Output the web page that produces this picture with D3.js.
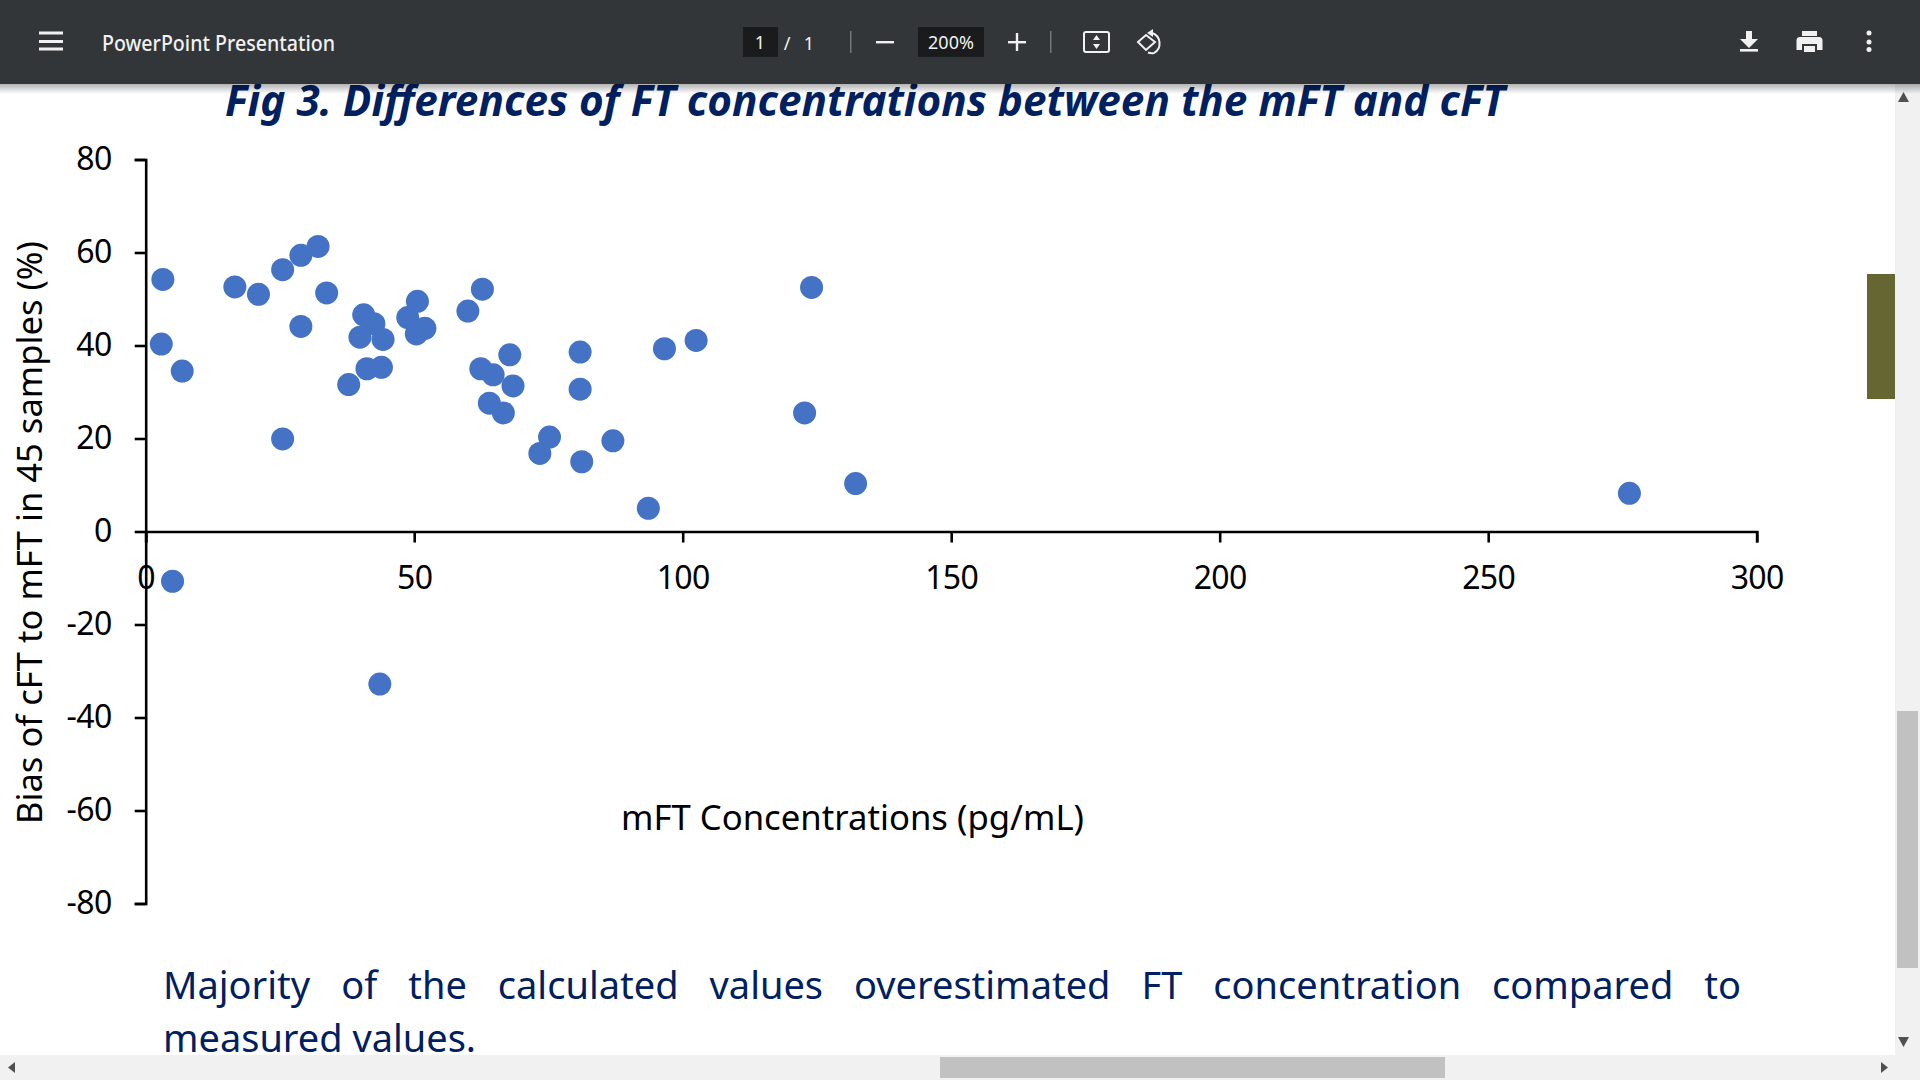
<!DOCTYPE html>
<html>
<head>
<meta charset="utf-8">
<title>Fig 3</title>
<script src="https://cdn.jsdelivr.net/npm/d3@7/dist/d3.min.js"></script>
<style>
  html, body { margin: 0; padding: 0; background: #fff; overflow: hidden; }
  svg { display: block; font-family: "Noto Sans", sans-serif; }
</style>
</head>
<body>
<svg id="page" width="1920" height="1080"></svg>
<script>
// values
var mft = [3.2, 2.9, 6.8, 5, 16.6, 21, 25.5, 28.9, 32.1, 33.7, 28.9, 25.5, 37.8, 40.6, 42.5,
  39.9, 44.2, 41.2, 43.9, 43.6, 48.8, 50.6, 50.4, 52, 60, 62.7, 62.4, 64.7, 64, 66.6,
  67.8, 68.4, 73.4, 75.2, 80.9, 80.9, 81.2, 87, 93.6, 96.6, 102.5, 124, 122.7, 132.2, 276.3];
var bias = [54.2, 40.3, 34.5, -10.7, 52.6, 51, 56.3, 59.4, 61.3, 51.3, 44.1, 19.9, 31.6, 46.6, 44.7,
  41.8, 41.3, 35, 35.3, -32.8, 46, 49.5, 42.5, 43.7, 47.4, 52.1, 35, 33.7, 27.6, 25.5,
  38, 31.3, 16.8, 20.3, 38.6, 30.6, 15, 19.5, 5, 39.3, 41.1, 52.5, 25.5, 10.3, 8.2];
var xTicks = [0, 50, 100, 150, 200, 250, 300];
var yTicks = [80, 60, 40, 20, 0, -20, -40, -60, -80];

var titleText = "Fig 3. Differences of FT concentrations between the mFT and cFT";
var xLabel = "mFT Concentrations (pg/mL)";
var yLabel = "Bias of cFT to mFT in 45 samples (%)";
var noteLine1 = ["Majority", "of", "the", "calculated", "values", "overestimated", "FT", "concentration", "compared", "to"];
var noteLine2 = "measured values.";

var svg = d3.select("#page");
var navy = "#002060";

var x = d3.scaleLinear().domain([0, 300]).range([145.7, 1756.7]);
var y = d3.scaleLinear().domain([-80, 80]).range([903.5, 159.5]);

// ----------title, sits partly under the toolbar---------------
svg.append("text")
  .attr("x", 225).attr("y", 116)
  .attr("font-size", 43).attr("font-weight", 700).attr("font-style", "italic")
  .attr("fill", navy)
  .attr("textLength", 1280).attr("lengthAdjust", "spacingAndGlyphs")
  .text(titleText);

// ----------axes---------------
var xAxis = d3.axisBottom(x).tickValues(xTicks).tickSize(11).tickPadding(24).tickSizeOuter(11);
var yAxis = d3.axisLeft(y).tickValues(yTicks).tickSize(11).tickPadding(23).tickSizeOuter(11)
  .tickFormat(String);

var gx = svg.append("g").attr("transform", "translate(0," + y(0) + ")").call(xAxis);
var gy = svg.append("g").attr("transform", "translate(" + x(0) + ",0)").call(yAxis);

[gx, gy].forEach(function (g) {
  g.selectAll("path, line").attr("stroke", "#000").attr("stroke-width", 2.6);
  g.selectAll("text").attr("font-size", 32).attr("letter-spacing", "-0.6px")
    .attr("font-family", '"Noto Sans", sans-serif').attr("fill", "#000");
});

// ----------points---------------
svg.append("g").selectAll("circle")
  .data(mft)
  .join("circle")
  .attr("cx", function (d) { return x(d); })
  .attr("cy", function (d, i) { return y(bias[i]); })
  .attr("r", 11.5)
  .attr("fill", "#4472c4");

// ----------axis titles---------------
svg.append("text")
  .attr("x", 621).attr("y", 830)
  .attr("font-size", 35)
  .attr("textLength", 463).attr("lengthAdjust", "spacingAndGlyphs")
  .text(xLabel);

svg.append("text")
  .attr("transform", "translate(42,824) rotate(-90)")
  .attr("font-size", 35)
  .attr("textLength", 583).attr("lengthAdjust", "spacingAndGlyphs")
  .text(yLabel);

// ----------note, first line justified---------------
var noteLeft = 163, noteRight = 1741, noteSize = 38;
var words = svg.append("g").attr("fill", navy).attr("font-size", noteSize)
  .selectAll("text").data(noteLine1).join("text").attr("y", 999).text(function (d) { return d; });
var widths = words.nodes().map(function (n) { return n.getComputedTextLength(); });
var gap = (noteRight - noteLeft - d3.sum(widths)) / (noteLine1.length - 1);
var cursor = noteLeft;
words.attr("x", function (d, i) {
  var at = cursor;
  cursor += widths[i] + gap;
  return at;
});
svg.append("text")
  .attr("x", noteLeft).attr("y", 1052)
  .attr("fill", navy).attr("font-size", noteSize)
  .attr("textLength", 313).attr("lengthAdjust", "spacingAndGlyphs")
  .text(noteLine2);

// ----------viewer chrome---------------
var defs = svg.append("defs");
var shade = defs.append("linearGradient").attr("id", "shade").attr("x1", 0).attr("x2", 0).attr("y1", 0).attr("y2", 1);
shade.append("stop").attr("offset", 0).attr("stop-color", "#000").attr("stop-opacity", 0.3);
shade.append("stop").attr("offset", 1).attr("stop-color", "#000").attr("stop-opacity", 0);

svg.append("rect").attr("x", 1867).attr("y", 274).attr("width", 28).attr("height", 125).attr("fill", "#666633");

// scrollbars
svg.append("rect").attr("x", 1895).attr("y", 84).attr("width", 25).attr("height", 996).attr("fill", "#f1f1f1");
svg.append("rect").attr("x", 0).attr("y", 1055).attr("width", 1920).attr("height", 25).attr("fill", "#f1f1f1");
svg.append("rect").attr("x", 1897).attr("y", 711).attr("width", 21).attr("height", 257).attr("fill", "#c1c1c1");
svg.append("rect").attr("x", 940).attr("y", 1057).attr("width", 505).attr("height", 21).attr("fill", "#c1c1c1");
svg.append("path").attr("d", "M1898 102L1903.5 92L1909 102Z").attr("fill", "#505050");
svg.append("path").attr("d", "M1898 1037L1903.5 1047L1909 1037Z").attr("fill", "#505050");
svg.append("path").attr("d", "M15 1062L8 1067.5L15 1073Z").attr("fill", "#505050");
svg.append("path").attr("d", "M1881 1062L1888 1067.5L1881 1073Z").attr("fill", "#505050");

// toolbar
svg.append("rect").attr("x", 0).attr("y", 84).attr("width", 1920).attr("height", 10).attr("fill", "url(#shade)");
svg.append("rect").attr("x", 0).attr("y", 0).attr("width", 1920).attr("height", 84).attr("fill", "#323639");
svg.append("rect").attr("x", 743).attr("y", 27).attr("width", 35).attr("height", 30).attr("fill", "#191b1c");
svg.append("rect").attr("x", 918).attr("y", 27).attr("width", 66).attr("height", 30).attr("fill", "#191b1c");

var bar = svg.append("g").attr("fill", "#f1f1f1");
[33, 41.5, 49].forEach(function (top) {
  bar.append("rect").attr("x", 39).attr("y", top - 1.5).attr("width", 24).attr("height", 3);
});
bar.append("text").attr("x", 102).attr("y", 50.5).attr("font-size", 21)
  .attr("font-weight", 500).attr("textLength", 233).attr("lengthAdjust", "spacingAndGlyphs")
  .text("PowerPoint Presentation");

bar.append("text").attr("x", 760).attr("y", 49).attr("font-size", 18).attr("text-anchor", "middle").text("1");
bar.append("text").attr("x", 787).attr("y", 50).attr("font-size", 18).attr("text-anchor", "middle").text("/");
bar.append("text").attr("x", 809).attr("y", 50).attr("font-size", 18).attr("text-anchor", "middle").text("1");
bar.append("text").attr("x", 951).attr("y", 49).attr("font-size", 18).attr("text-anchor", "middle").text("200%");

bar.append("rect").attr("x", 850).attr("y", 31).attr("width", 1.5).attr("height", 22).attr("fill", "#72767a");
bar.append("rect").attr("x", 1050).attr("y", 31).attr("width", 1.5).attr("height", 22).attr("fill", "#72767a");
bar.append("rect").attr("x", 876).attr("y", 41).attr("width", 18).attr("height", 2.4);
bar.append("rect").attr("x", 1008).attr("y", 41).attr("width", 18).attr("height", 2.4);
bar.append("rect").attr("x", 1015.8).attr("y", 33).attr("width", 2.4).attr("height", 18);

// fit to page
bar.append("rect").attr("x", 1084).attr("y", 32).attr("width", 25).attr("height", 20).attr("rx", 2)
  .attr("fill", "none").attr("stroke", "#f1f1f1").attr("stroke-width", 2);
bar.append("path").attr("d", "M1096.5 35L1100 40H1093ZM1096.5 49L1100 44H1093Z");

// rotate
bar.append("path").attr("d", "M1146 35L1155 42L1146 50L1138 42Z")
  .attr("fill", "none").attr("stroke", "#f1f1f1").attr("stroke-width", 2);
bar.append("path").attr("d", "M1152 33A11 11 0 0 1 1154 53A11 11 0 0 1 1148 52.5")
  .attr("fill", "none").attr("stroke", "#f1f1f1").attr("stroke-width", 2);
bar.append("path").attr("d", "M1153 29V37L1147 33Z");

// download
bar.append("path").attr("d", "M1746 31H1752V39H1758L1749 48L1740 39H1746Z");
bar.append("rect").attr("x", 1740).attr("y", 49).attr("width", 18).attr("height", 2.6);

// print
bar.append("path").attr("d", "M1802 31H1817V36H1802ZM1800 37H1819A3.5 3.5 0 0 1 1822.5 40.5V50H1817V44H1802V50H1796.5V40.5A3.5 3.5 0 0 1 1800 37ZM1804 46H1815V52H1804Z");

// more
[33, 42, 49.5].forEach(function (cy) {
  bar.append("circle").attr("cx", 1869).attr("cy", cy).attr("r", 2.5);
});
</script>
</body>
</html>
